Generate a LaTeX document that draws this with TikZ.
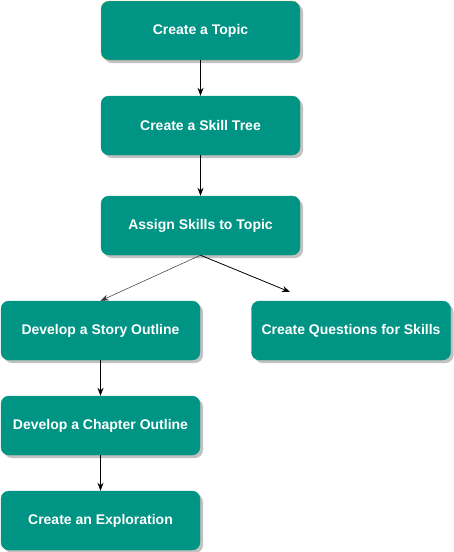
\documentclass[tikz,border=0pt]{standalone}
\usepackage{fontspec}
\setmainfont{Liberation Sans}
\usetikzlibrary{arrows.meta,shadows}
\definecolor{teal1}{HTML}{009485}
\definecolor{olive1}{HTML}{9AA85A}
\tikzset{
  stepbox/.style={rectangle,rounded corners=8pt,fill=teal1,draw=teal1,text=white,
    minimum width=199pt,minimum height=59pt,inner sep=0pt,
    font=\fontsize{14}{16}\selectfont\bfseries,
    drop shadow={shadow xshift=3pt,shadow yshift=-3pt,fill=black!35,opacity=0.7}},
  link/.style={-{Stealth[length=8pt,width=6pt]},line width=0.8pt}
}
\begin{document}
\begin{tikzpicture}[x=1pt,y=-1pt]
\useasboundingbox (0,0) rectangle (453,552);
\node[stepbox,draw=olive1] (topic) at (200.5,30.5) {Create a Topic};
\node[stepbox] (tree) at (200.5,125.5) {Create a Skill Tree};
\node[stepbox] (assign) at (200.5,225.5) {Assign Skills to Topic};
\node[stepbox] (story) at (100.5,330.5) {Develop a Story Outline};
\node[stepbox] (questions) at (351,330.5) {Create Questions for Skills};
\node[stepbox] (chapter) at (100.5,425.5) {Develop a Chapter Outline};
\node[stepbox] (explore) at (100.5,520.5) {Create an Exploration};
\coordinate (qend) at (290,292);
\draw[link] (topic) -- (tree);
\draw[link] (tree) -- (assign);
\draw[link,line width=0.5pt,black!80] (assign.south) -- (story.north);
\draw[link] (assign.south) -- (qend);
\draw[link] (story) -- (chapter);
\draw[link] (chapter) -- (explore);
\end{tikzpicture}
\end{document}
